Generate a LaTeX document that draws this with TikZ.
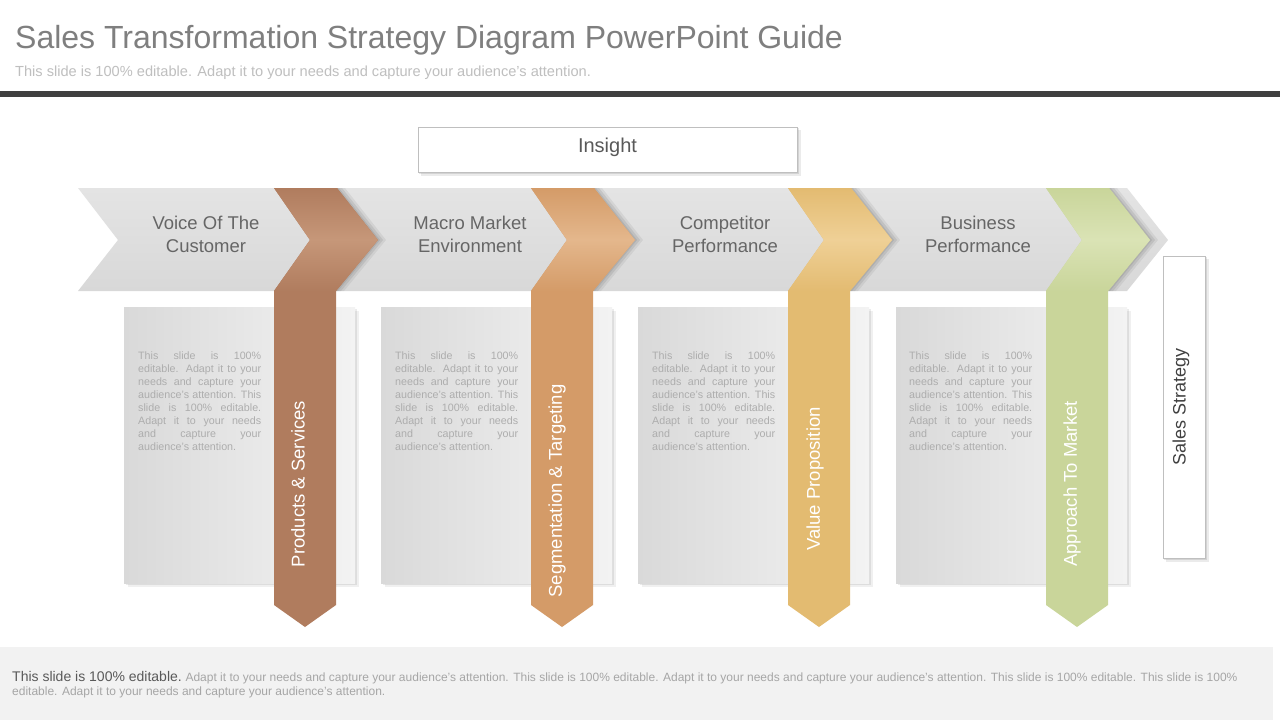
\documentclass[tikz,border=0pt]{standalone}
\usepackage{fontspec}
\setmainfont{Liberation Sans}
\usetikzlibrary{calc}
\definecolor{titlegray}{HTML}{7F7F7F}
\definecolor{subgray}{HTML}{BFBFBF}
\definecolor{barcol}{HTML}{404040}
\definecolor{framegray}{HTML}{BFBFBF}
\definecolor{insighttext}{HTML}{595959}
\definecolor{bandtop}{HTML}{E4E4E4}
\definecolor{bandmid}{HTML}{F6F6F6}
\definecolor{bandbot}{HTML}{D8D8D8}
\definecolor{chevtext}{HTML}{666666}
\definecolor{boxleft}{HTML}{D9D9D9}
\definecolor{boxright}{HTML}{F3F3F3}
\definecolor{boxtextcol}{HTML}{ADADAD}
\definecolor{rbrown}{HTML}{B07C5E}
\definecolor{rbrownl}{HTML}{C69779}
\definecolor{rorange}{HTML}{D49B68}
\definecolor{rorangel}{HTML}{E4B78C}
\definecolor{ryellow}{HTML}{E3BB71}
\definecolor{ryellowl}{HTML}{EFD096}
\definecolor{rgreen}{HTML}{C9D59A}
\definecolor{rgreenl}{HTML}{DAE3B5}
\definecolor{salestext}{HTML}{404040}
\definecolor{panelcol}{HTML}{F2F2F2}
\definecolor{botdark}{HTML}{595959}
\definecolor{botlight}{HTML}{A6A6A6}

\newcommand\chevpath[1]{({#1},188) -- ({#1+63},188) -- ({#1+104},240) -- ({#1+62},291) -- ({#1},291) -- ({#1+36},240) -- cycle}
\newcommand\ribbonpath[1]{({#1},188) -- ({#1+63},188) -- ({#1+104},240) -- ({#1+62},291) -- ({#1+62},605) -- ({#1+31},627) -- ({#1},605) -- ({#1},291) -- ({#1+36},240) -- cycle}
\newcommand\drawribbon[3]{%
  \fill[black,opacity=0.06] [xshift=8pt] \chevpath{#1};
  \fill[black,opacity=0.08] [xshift=5pt] \chevpath{#1};
  \fill[black,opacity=0.08] [xshift=2pt] \chevpath{#1};
  \fill[#2] \ribbonpath{#1};
  \shade[top color=#2, bottom color=#2, middle color=#3] \chevpath{#1};
}
\newcommand\textpanel[1]{%
  \fill[black,opacity=0.06] ({#1-150+4},311) rectangle ({#1+81+4},587);
  \fill[black,opacity=0.08] ({#1-150+2},309) rectangle ({#1+81+2},585);
  \shade[left color=boxleft, right color=boxright] ({#1-150},307) rectangle ({#1+81},583);
}
\newcommand\boxbody{\parbox[t]{123pt}{%
\makebox[123pt][s]{This slide is 100\%}\\
\makebox[123pt][s]{editable. Adapt it to your}\\
\makebox[123pt][s]{needs and capture your}\\
\makebox[123pt][s]{audience's attention. This}\\
\makebox[123pt][s]{slide is 100\% editable.}\\
\makebox[123pt][s]{Adapt it to your needs}\\
\makebox[123pt][s]{and capture your}\\
audience's attention.}}

\tikzset{
  chevlabel/.style={font=\fontsize{18.5}{23}\selectfont, text=chevtext, align=center, inner sep=0},
  ribbonlabel/.style={rotate=90, font=\fontsize{18.5}{22}\selectfont, text=white, inner sep=0},
  boxtext/.style={anchor=north west, inner sep=0, font=\fontsize{10.7}{12.9}\selectfont, text=boxtextcol},
  framebox/.style={fill=white, draw=framegray, line width=0.8pt},
}

\begin{document}
\begin{tikzpicture}[x=1pt,y=-1pt]
\useasboundingbox (0,0) rectangle (1280,720);
\fill[white] (0,0) rectangle (1280,720);

% header
\node[anchor=base west, inner sep=0, font=\fontsize{32}{36}\selectfont, text=titlegray] (title) at (15,48) {Sales Transformation Strategy Diagram PowerPoint Guide};
\node[anchor=base west, inner sep=0, font=\fontsize{14.6}{16}\selectfont, text=subgray] (subtitle) at (15,76) {This slide is 100\% editable. Adapt it to your needs and capture your audience's attention.};
\fill[barcol] (0,91) rectangle (1280,97);

% insight box
\fill[black,opacity=0.08] (421,130) rectangle (801,176);
\fill[black,opacity=0.10] (419,128) rectangle (799,174);
\draw[framebox] (418,127) rectangle (797,172);
\node[font=\fontsize{20}{22}\selectfont, text=insighttext, inner sep=0] (insight) at (607.5,147) {Insight};

% band
\shade[top color=bandtop, middle color=bandmid, bottom color=bandbot] (78,188) -- (1127,188) -- (1168,240) -- (1127,291) -- (78,291) -- (118,240) -- cycle;

% text panels
\textpanel{274}
\textpanel{531}
\textpanel{788}
\textpanel{1046}

% ribbons
\drawribbon{274}{rbrown}{rbrownl}
\drawribbon{531}{rorange}{rorangel}
\drawribbon{788}{ryellow}{ryellowl}
\drawribbon{1046}{rgreen}{rgreenl}

% chevron labels
\node[chevlabel] (voice) at (206,234) {Voice Of The\\Customer};
\node[chevlabel] (macro) at (470,234) {Macro Market\\Environment};
\node[chevlabel] (comp) at (725,234) {Competitor\\Performance};
\node[chevlabel] (bus) at (978,234) {Business\\Performance};

% panel texts
\node[boxtext] (txt1) at (138,352) {\boxbody};
\node[boxtext] (txt2) at (395,352) {\boxbody};
\node[boxtext] (txt3) at (652,352) {\boxbody};
\node[boxtext] (txt4) at (909,352) {\boxbody};

% ribbon labels
\node[ribbonlabel] (prod) at (298,484) {Products \& Services};
\node[ribbonlabel] (seg) at (557,491) {Segmentation \& Targeting};
\node[ribbonlabel] (val) at (815,479) {Value Proposition};
\node[ribbonlabel] (appr) at (1072,484) {Approach To Market};

% sales strategy box
\fill[black,opacity=0.08] (1166,259) rectangle (1209,562);
\fill[black,opacity=0.10] (1164,257) rectangle (1207,560);
\draw[framebox] (1163,256) rectangle (1205,558);
\node[rotate=90, font=\fontsize{18}{20}\selectfont, text=salestext, inner sep=0] (sales) at (1181,407) {Sales Strategy};

% bottom panel
\fill[panelcol] (0,647) rectangle (1273,720);
\node[anchor=base west, inner sep=0, text=botlight] (bot1) at (12,681) {{\fontsize{14}{16}\selectfont\color{botdark}This slide is 100\% editable.} \fontsize{12}{14}\selectfont Adapt it to your needs and capture your audience's attention. This slide is 100\% editable. Adapt it to your needs and capture your audience's attention. This slide is 100\% editable. This slide is 100\%};
\node[anchor=base west, inner sep=0, text=botlight, font=\fontsize{12}{14}\selectfont] (bot2) at (12,695) {editable. Adapt it to your needs and capture your audience's attention.};
\end{tikzpicture}
\end{document}
